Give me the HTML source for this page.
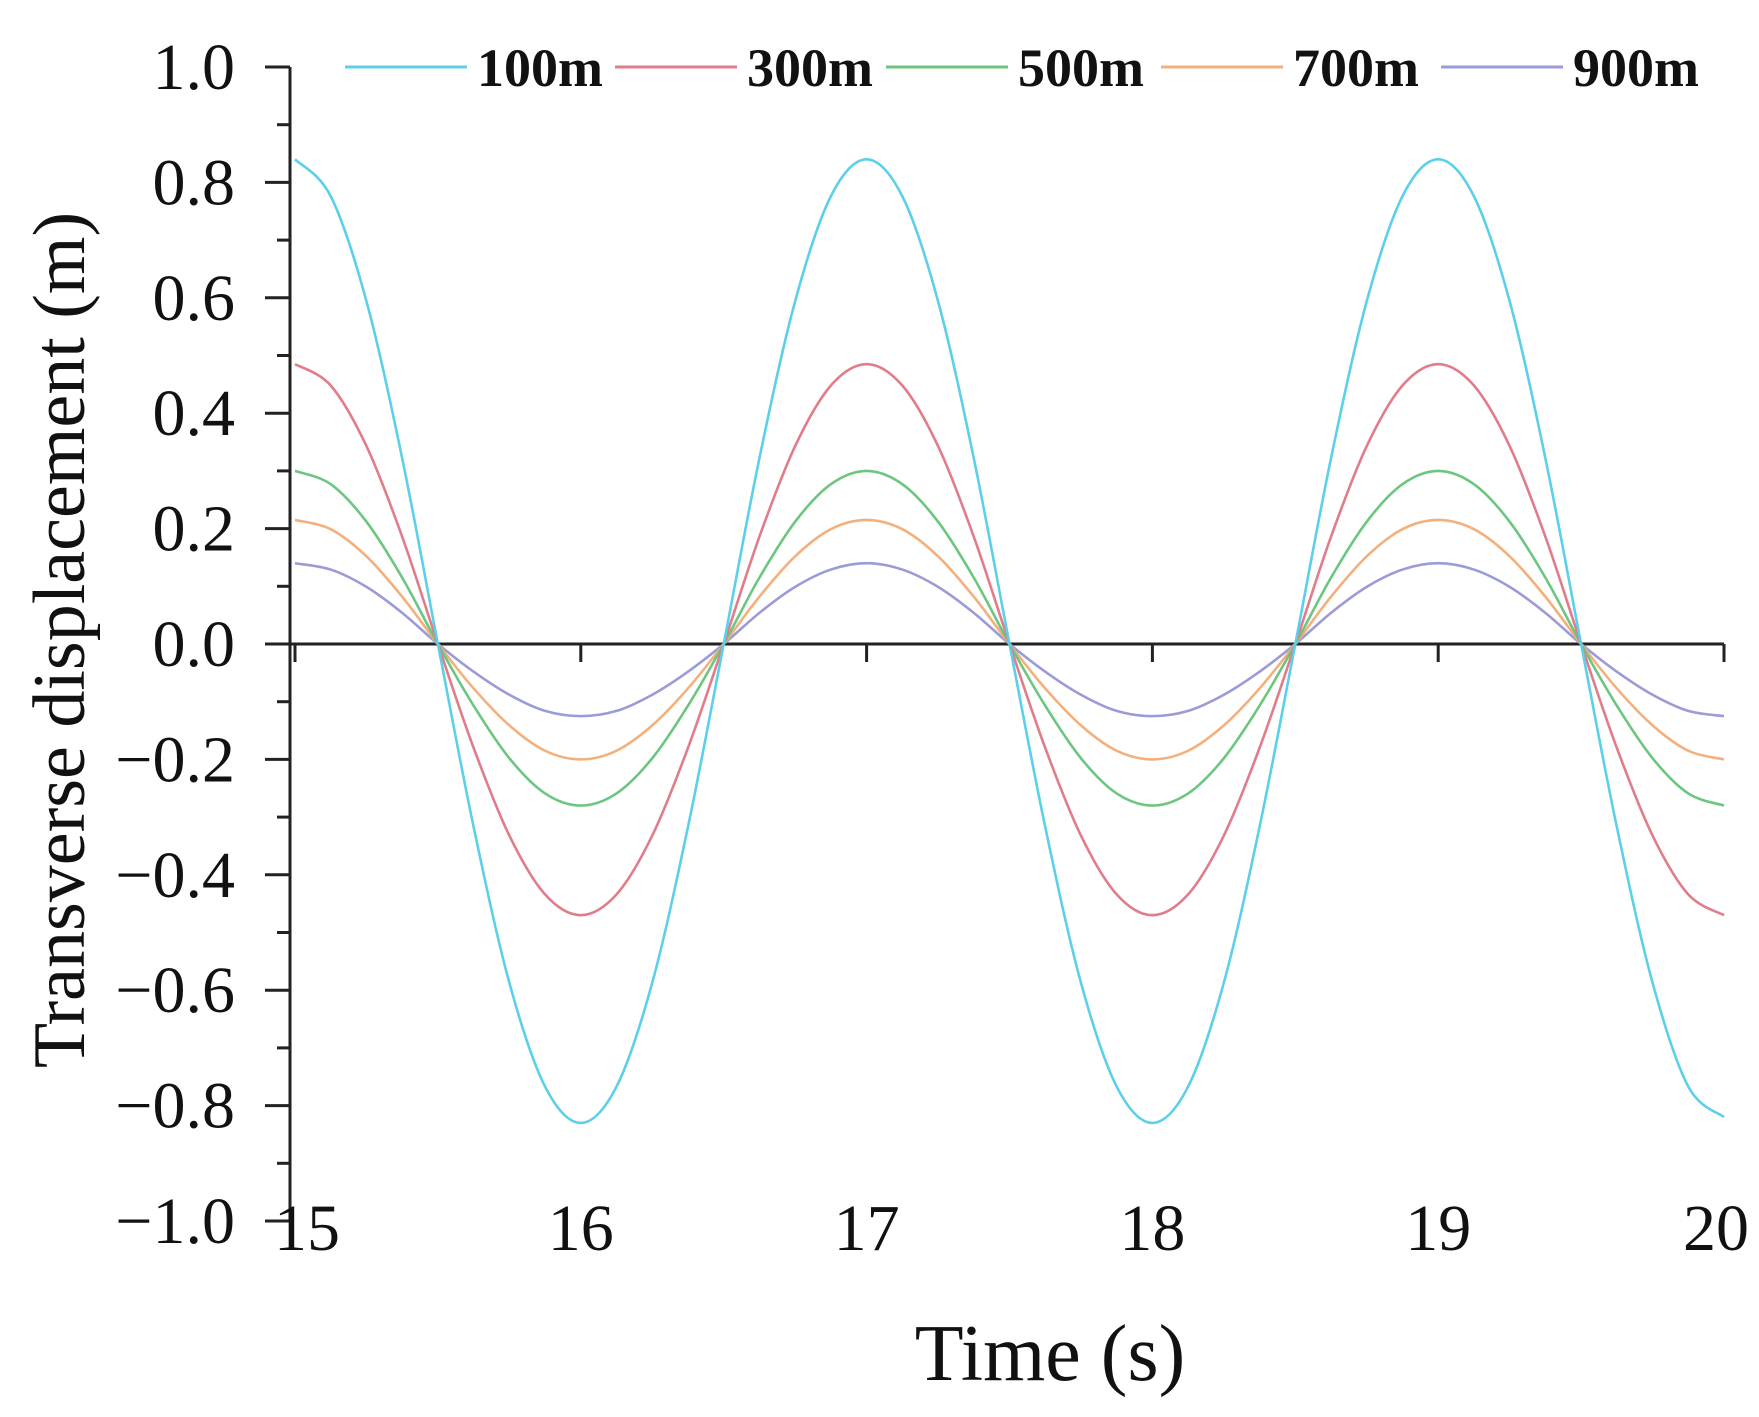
<!DOCTYPE html>
<html><head><meta charset="utf-8"><style>
html,body{margin:0;padding:0;background:#fff;}
svg{display:block;}
text{font-family:"Liberation Serif",serif;fill:#111;}
.leg{font-weight:bold;font-size:54px;}
</style></head><body>
<svg id="chart" width="1759" height="1417" viewBox="0 0 1759 1417"></svg>
<script>
const times = [15,15.125,15.25,15.375,15.5,15.625,15.75,15.875,16,16.125,16.25,16.375,16.5,16.625,16.75,16.875,17,17.125,17.25,17.375,17.5,17.625,17.75,17.875,18,18.125,18.25,18.375,18.5,18.625,18.75,18.875,19,19.125,19.25,19.375,19.5,19.625,19.75,19.875,20];
const s100 = [0.84,0.776,0.594,0.322,0,-0.317,-0.587,-0.767,-0.83,-0.767,-0.587,-0.317,0,0.322,0.594,0.776,0.84,0.776,0.594,0.322,0,-0.317,-0.587,-0.767,-0.83,-0.767,-0.587,-0.317,0,0.322,0.594,0.776,0.84,0.776,0.594,0.322,0,-0.317,-0.587,-0.767,-0.82];
const s300 = [0.485,0.448,0.343,0.186,0,-0.18,-0.332,-0.434,-0.47,-0.434,-0.332,-0.18,0,0.186,0.343,0.448,0.485,0.448,0.343,0.186,0,-0.18,-0.332,-0.434,-0.47,-0.434,-0.332,-0.18,0,0.186,0.343,0.448,0.485,0.448,0.343,0.186,0,-0.18,-0.332,-0.434,-0.47];
const s500 = [0.30,0.277,0.212,0.115,0,-0.107,-0.198,-0.259,-0.28,-0.259,-0.198,-0.107,0,0.115,0.212,0.277,0.30,0.277,0.212,0.115,0,-0.107,-0.198,-0.259,-0.28,-0.259,-0.198,-0.107,0,0.115,0.212,0.277,0.30,0.277,0.212,0.115,0,-0.107,-0.198,-0.259,-0.28];
const s700 = [0.215,0.199,0.152,0.082,0,-0.077,-0.141,-0.185,-0.20,-0.185,-0.141,-0.077,0,0.082,0.152,0.199,0.215,0.199,0.152,0.082,0,-0.077,-0.141,-0.185,-0.20,-0.185,-0.141,-0.077,0,0.082,0.152,0.199,0.215,0.199,0.152,0.082,0,-0.077,-0.141,-0.185,-0.20];
const s900 = [0.14,0.129,0.099,0.054,0,-0.048,-0.088,-0.116,-0.125,-0.116,-0.088,-0.048,0,0.054,0.099,0.129,0.14,0.129,0.099,0.054,0,-0.048,-0.088,-0.116,-0.125,-0.116,-0.088,-0.048,0,0.054,0.099,0.129,0.14,0.129,0.099,0.054,0,-0.048,-0.088,-0.116,-0.125];
const seriesNames = ["100m","300m","500m","700m","900m"];
const xTicks = [15,16,17,18,19,20];
const yTicks = [1.0,0.8,0.6,0.4,0.2,0.0,-0.2,-0.4,-0.6,-0.8,-1.0];

const NS="http://www.w3.org/2000/svg";
const svg=document.getElementById('chart');
const X0=295,X1=1724,Y0=67,Y1=1221,AX=290;
const xs=t=>X0+(t-15)/5*(X1-X0);
const ys=v=>Y0+(1-v)/2*(Y1-Y0);
function el(tag,attrs){const e=document.createElementNS(NS,tag);for(const k in attrs)e.setAttribute(k,attrs[k]);svg.appendChild(e);return e;}

let a=el('line',{x1:AX,y1:Y0,x2:AX,y2:Y1,stroke:'#222','stroke-width':3});


for(let i=0;i<=20;i++){
  const v=1-i*0.1, y=ys(v), major=i%2===0;
  const t=el('line',{x1:AX-(major?25:13),y1:y,x2:AX,y2:y,stroke:'#222','stroke-width':3});
  
  
}
yTicks.forEach(v=>{
  const t=el('text',{x:AX-55,y:ys(v)+22,'text-anchor':'end','font-size':66});
  t.textContent=(v<0?'\u2212':'')+Math.abs(v).toFixed(1);
  
  
});
let z=el('line',{x1:AX,y1:ys(0),x2:X1,y2:ys(0),stroke:'#222','stroke-width':3});


xTicks.forEach(v=>{
  const t=el('line',{x1:xs(v),y1:ys(0),x2:xs(v),y2:ys(0)+18,stroke:'#222','stroke-width':3});
  
  
  const l=el('text',{x:xs(v)+(v===15?12:v===20?-8:0),y:1250,'text-anchor':'middle','font-size':66});
  l.textContent=v;
  
  
});
let xt=el('text',{x:1050,y:1380,'text-anchor':'middle','font-size':80});
xt.textContent='Time (s)';


let yt=el('text',{x:0,y:0,'text-anchor':'middle','font-size':74,transform:'translate(84,640) rotate(-90)'});
yt.textContent='Transverse displacement (m)';



const colors=['#5ccfea','#e17c8a','#6cc680','#f3b07c','#9b9bd7'];
const data=[s100,s300,s500,s700,s900];
function pathFor(vals){
  const p=vals.map((v,i)=>[xs(times[i]),ys(v)]);
  let d='M'+p[0][0]+','+p[0][1];
  for(let i=0;i<p.length-1;i++){
    const p0=p[Math.max(0,i-1)],p1=p[i],p2=p[i+1],p3=p[Math.min(p.length-1,i+2)];
    const c1=[p1[0]+(p2[0]-p0[0])/6,p1[1]+(p2[1]-p0[1])/6];
    const c2=[p2[0]-(p3[0]-p1[0])/6,p2[1]-(p3[1]-p1[1])/6];
    d+=' C'+c1[0]+','+c1[1]+' '+c2[0]+','+c2[1]+' '+p2[0]+','+p2[1];
  }
  return d;
}
for(let k=data.length-1;k>=0;k--){
  const p=el('path',{d:pathFor(data[k]),fill:'none',stroke:colors[k],'stroke-width':2.6});
  
  
}
const legX=[345,615,886,1161,1441];
seriesNames.forEach((n,k)=>{
  const x=legX[k];
  const l=el('line',{x1:x,y1:67,x2:x+122,y2:67,stroke:colors[k],'stroke-width':3});
  
  
  const t=el('text',{x:x+132,y:86,'class':'leg'});
  t.textContent=n;
  
  
});
</script>
</body></html>
